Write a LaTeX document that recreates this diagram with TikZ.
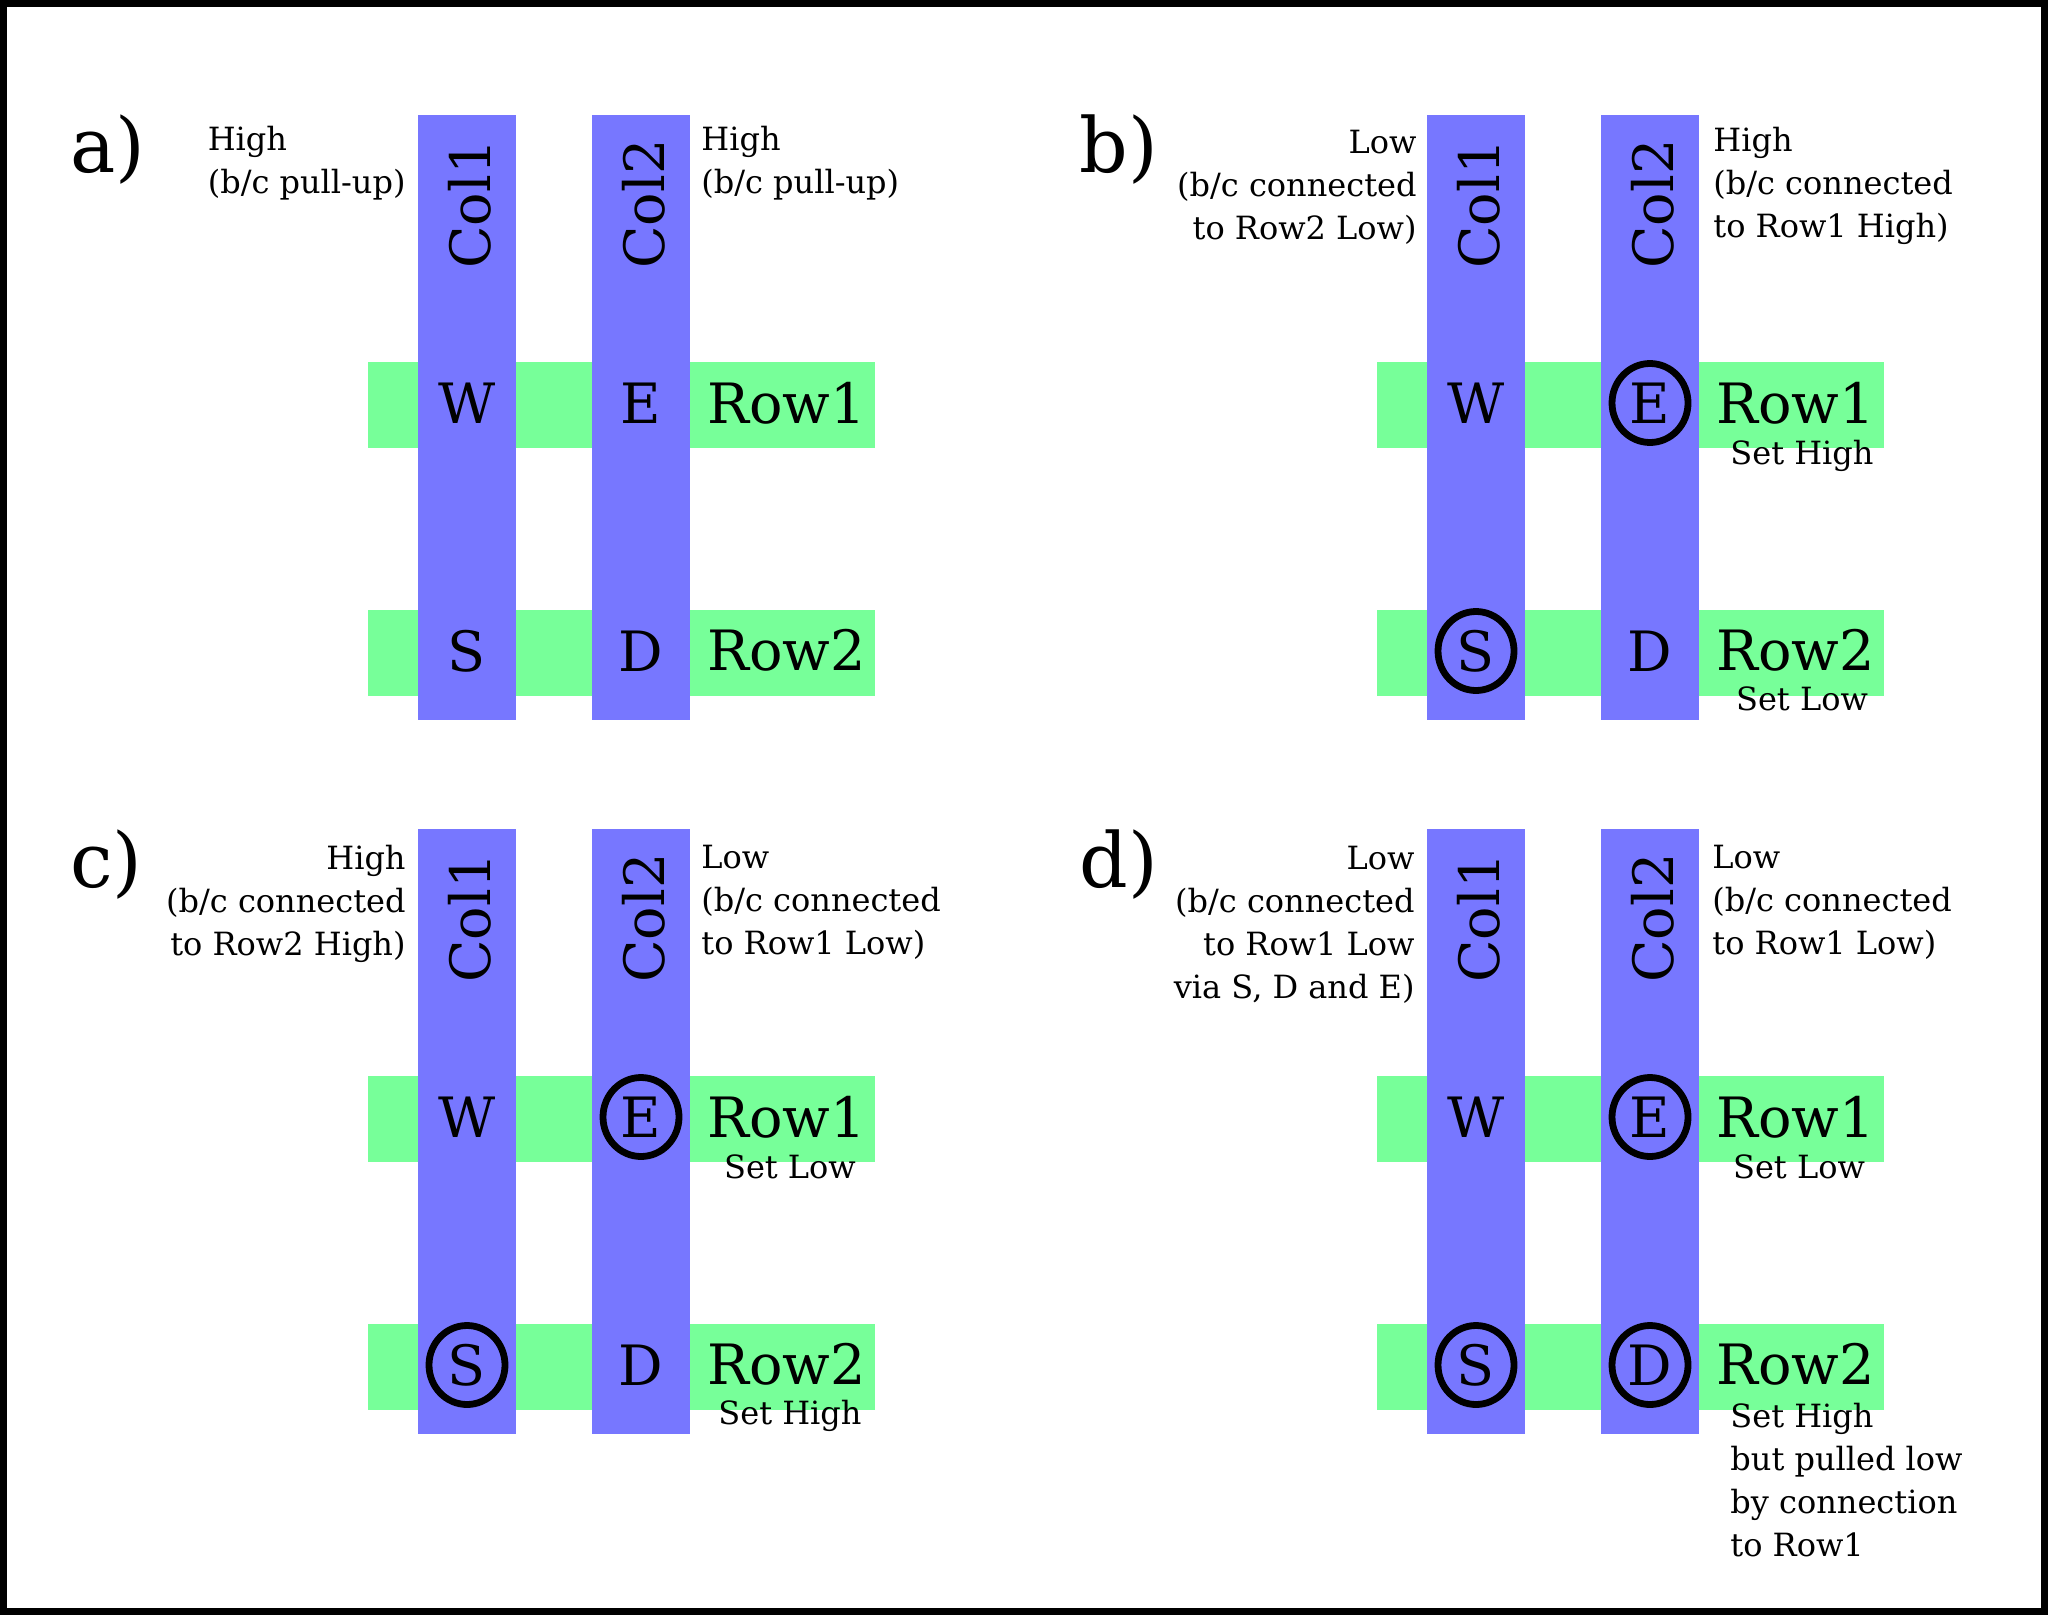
\documentclass[tikz,border=0pt]{standalone}
\usepackage{fontspec}
\setmainfont{DejaVu Serif}
\usetikzlibrary{shapes.geometric}
\definecolor{colblue}{HTML}{7777FF}
\definecolor{rowgreen}{HTML}{77FF99}
\newcommand{\gridpanel}[5]{%
  \fill[rowbar] (368,362) rectangle (875,448);
  \fill[rowbar] (368,610) rectangle (875,696);
  \fill[colbar] (418,115) rectangle (516,720);
  \fill[colbar] (592,115) rectangle (690,720);
  \node[paneltext] (#1lbl) at (70,173) {#2};
  \node[bigtext, rotate=90, anchor=base] (#1c1) at (490,204) {Col1};
  \node[bigtext, rotate=90, anchor=base] (#1c2) at (664,204) {Col2};
  \node[cell] (#1W) at (467,403) {W};
  \node[cell,#3] (#1E) at (641,403) {E};
  \node[cell,#4] (#1S) at (467,651) {S};
  \node[cell,#5] (#1D) at (641,651) {D};
  \node[bigtext, anchor=base west] (#1r1) at (707,423) {Row1};
  \node[bigtext, anchor=base west] (#1r2) at (707,670) {Row2};
}
\begin{document}
\begin{tikzpicture}[x=0.5pt,y=-0.5pt,
  smalltext/.style={font=\fontsize{16}{21.5}\selectfont, inner sep=0pt},
  bigtext/.style={font=\fontsize{27.8}{33}\selectfont, inner sep=0pt},
  paneltext/.style={font=\fontsize{38}{46}\selectfont, inner sep=0pt, anchor=base west},
  cell/.style={bigtext, ellipse, minimum width=38pt, minimum height=39.5pt},
  marked/.style={draw=black, line width=3.4pt},
  colbar/.style={fill=colblue},
  rowbar/.style={fill=rowgreen},
]
\useasboundingbox (0,0) rectangle (2048,1615);
\fill[white] (0,0) rectangle (2048,1615);
\draw[line width=3.5pt] (3.5,3.5) rectangle (2044.5,1611.5);

\begin{scope}
  \gridpanel{a}{a)}{}{}{}
\end{scope}
\begin{scope}[shift={(1009,0)}]
  \gridpanel{b}{b)}{marked}{marked}{}
\end{scope}
\begin{scope}[shift={(0,714)}]
  \gridpanel{c}{c)}{marked}{marked}{}
\end{scope}
\begin{scope}[shift={(1009,714)}]
  \gridpanel{d}{d)}{marked}{marked}{marked}
\end{scope}

% panel a side texts
\node[smalltext, align=left, anchor=north east] (aleft) at (406,120) {\strut High\\(b/c pull-up)};
\node[smalltext, align=left, anchor=north west] (aright) at (701,120) {\strut High\\(b/c pull-up)};
% panel b
\node[smalltext, align=right, anchor=north east] (bleft) at (1417,123) {\strut Low\\(b/c connected\\to Row2 Low)};
\node[smalltext, align=left, anchor=north west] (bright) at (1713,121) {\strut High\\(b/c connected\\to Row1 High)};
\node[smalltext, anchor=base] (bset1) at (1802,464) {Set High};
\node[smalltext, anchor=base] (bset2) at (1802,710) {Set Low};
% panel c
\node[smalltext, align=right, anchor=north east] (cleft) at (406,839) {\strut High\\(b/c connected\\to Row2 High)};
\node[smalltext, align=left, anchor=north west] (cright) at (701,838) {\strut Low\\(b/c connected\\to Row1 Low)};
\node[smalltext, anchor=base] (cset1) at (790,1178) {Set Low};
\node[smalltext, anchor=base] (cset2) at (790,1424) {Set High};
% panel d
\node[smalltext, align=right, anchor=north east] (dleft) at (1415,839) {\strut Low\\(b/c connected\\to Row1 Low\\via S, D and E)};
\node[smalltext, align=left, anchor=north west] (dright) at (1712,838) {\strut Low\\(b/c connected\\to Row1 Low)};
\node[smalltext, anchor=base] (dset1) at (1799,1178) {Set Low};
\node[smalltext, align=left, anchor=north west] (dset2) at (1730,1397) {\strut Set High\\but pulled low\\by connection\\to Row1};
\end{tikzpicture}
\end{document}
